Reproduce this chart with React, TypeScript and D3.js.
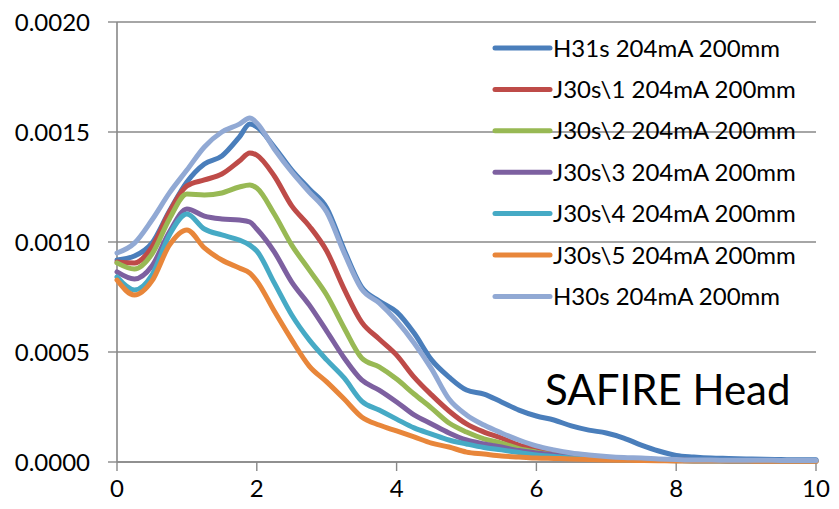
import React from "react";
import * as d3 from "d3";

const xValues = [0, 0.25, 0.5, 0.75, 1, 1.25, 1.5, 1.75, 1.9, 2, 2.25, 2.5, 2.75, 3, 3.25, 3.5, 3.75, 4, 4.25, 4.5, 4.75, 5, 5.25, 5.5, 5.75, 6, 6.25, 6.5, 6.75, 7, 7.25, 7.5, 7.75, 8, 8.25, 8.5, 8.75, 9, 9.25, 9.5, 9.75, 10];

const seriesNames = [
  "H31s 204mA 200mm",
  "J30s\\1 204mA 200mm",
  "J30s\\2 204mA 200mm",
  "J30s\\3 204mA 200mm",
  "J30s\\4 204mA 200mm",
  "J30s\\5 204mA 200mm",
  "H30s 204mA 200mm",
];

const seriesColors = ["#4A7EBB", "#BE4B48", "#98B954", "#7D60A0", "#46AAC5", "#E8863A", "#91A9D4"];

const h31s = [9.18e-4, 9.36e-4, 9.95e-4, 11.41e-4, 12.73e-4, 13.55e-4, 13.91e-4, 14.77e-4, 15.36e-4, 15.23e-4, 14.32e-4, 13.27e-4, 12.41e-4, 11.55e-4, 9.64e-4, 7.95e-4, 7.32e-4, 6.82e-4, 5.86e-4, 4.64e-4, 3.86e-4, 3.27e-4, 3.09e-4, 2.73e-4, 2.36e-4, 2.09e-4, 1.91e-4, 1.64e-4, 1.45e-4, 1.32e-4, 1.09e-4, 0.77e-4, 0.5e-4, 0.3e-4, 0.23e-4, 0.18e-4, 0.16e-4, 0.14e-4, 0.12e-4, 0.11e-4, 0.1e-4, 0.1e-4];
const j30s1 = [9.09e-4, 9.05e-4, 9.77e-4, 11.36e-4, 12.55e-4, 12.82e-4, 13.09e-4, 13.68e-4, 14.05e-4, 13.95e-4, 13.0e-4, 11.64e-4, 10.73e-4, 9.59e-4, 7.86e-4, 6.36e-4, 5.59e-4, 4.86e-4, 3.86e-4, 3.05e-4, 2.32e-4, 1.73e-4, 1.36e-4, 1.09e-4, 0.77e-4, 0.59e-4, 0.43e-4, 0.32e-4, 0.23e-4, 0.18e-4, 0.14e-4, 0.11e-4, 0.09e-4, 0.08e-4, 0.07e-4, 0.07e-4, 0.06e-4, 0.06e-4, 0.05e-4, 0.05e-4, 0.05e-4, 0.05e-4];
const j30s2 = [9.05e-4, 8.77e-4, 9.45e-4, 11.05e-4, 12.18e-4, 12.14e-4, 12.23e-4, 12.5e-4, 12.59e-4, 12.45e-4, 11.27e-4, 9.86e-4, 8.73e-4, 7.59e-4, 6.09e-4, 4.73e-4, 4.32e-4, 3.77e-4, 3.09e-4, 2.45e-4, 1.77e-4, 1.36e-4, 1.05e-4, 0.86e-4, 0.61e-4, 0.45e-4, 0.32e-4, 0.23e-4, 0.18e-4, 0.14e-4, 0.11e-4, 0.09e-4, 0.08e-4, 0.07e-4, 0.06e-4, 0.06e-4, 0.05e-4, 0.05e-4, 0.05e-4, 0.04e-4, 0.04e-4, 0.04e-4];
const j30s3 = [8.64e-4, 8.32e-4, 8.91e-4, 10.45e-4, 11.5e-4, 11.18e-4, 11.05e-4, 11.0e-4, 10.91e-4, 10.59e-4, 9.55e-4, 8.18e-4, 7.14e-4, 5.95e-4, 4.73e-4, 3.73e-4, 3.27e-4, 2.73e-4, 2.14e-4, 1.73e-4, 1.32e-4, 1.0e-4, 0.82e-4, 0.68e-4, 0.52e-4, 0.41e-4, 0.32e-4, 0.23e-4, 0.18e-4, 0.14e-4, 0.11e-4, 0.09e-4, 0.08e-4, 0.07e-4, 0.06e-4, 0.06e-4, 0.05e-4, 0.05e-4, 0.04e-4, 0.04e-4, 0.04e-4, 0.04e-4];
const j30s4 = [8.41e-4, 7.82e-4, 8.5e-4, 10.32e-4, 11.27e-4, 10.59e-4, 10.32e-4, 10.09e-4, 9.86e-4, 9.59e-4, 8.14e-4, 6.68e-4, 5.55e-4, 4.64e-4, 3.82e-4, 2.77e-4, 2.36e-4, 1.95e-4, 1.55e-4, 1.27e-4, 1.0e-4, 0.82e-4, 0.66e-4, 0.55e-4, 0.43e-4, 0.32e-4, 0.25e-4, 0.18e-4, 0.14e-4, 0.11e-4, 0.09e-4, 0.08e-4, 0.07e-4, 0.06e-4, 0.05e-4, 0.05e-4, 0.05e-4, 0.04e-4, 0.04e-4, 0.04e-4, 0.04e-4, 0.04e-4];
const j30s5 = [8.27e-4, 7.59e-4, 8.23e-4, 9.86e-4, 10.55e-4, 9.73e-4, 9.18e-4, 8.82e-4, 8.59e-4, 8.23e-4, 6.86e-4, 5.55e-4, 4.36e-4, 3.64e-4, 2.86e-4, 2.05e-4, 1.68e-4, 1.41e-4, 1.14e-4, 0.86e-4, 0.68e-4, 0.45e-4, 0.36e-4, 0.27e-4, 0.23e-4, 0.18e-4, 0.16e-4, 0.14e-4, 0.11e-4, 0.09e-4, 0.08e-4, 0.07e-4, 0.06e-4, 0.05e-4, 0.05e-4, 0.04e-4, 0.04e-4, 0.04e-4, 0.03e-4, 0.03e-4, 0.03e-4, 0.03e-4];
const h30s = [9.5e-4, 9.95e-4, 11.0e-4, 12.23e-4, 13.27e-4, 14.32e-4, 15.0e-4, 15.36e-4, 15.64e-4, 15.41e-4, 14.23e-4, 13.18e-4, 12.27e-4, 11.36e-4, 9.5e-4, 7.86e-4, 7.23e-4, 6.41e-4, 5.41e-4, 4.23e-4, 2.86e-4, 2.14e-4, 1.68e-4, 1.32e-4, 1.0e-4, 0.73e-4, 0.55e-4, 0.41e-4, 0.32e-4, 0.25e-4, 0.2e-4, 0.18e-4, 0.14e-4, 0.11e-4, 0.09e-4, 0.09e-4, 0.08e-4, 0.08e-4, 0.08e-4, 0.07e-4, 0.07e-4, 0.07e-4];

const seriesValues = [h31s, j30s1, j30s2, j30s3, j30s4, j30s5, h30s];

const xTicks = [0, 2, 4, 6, 8, 10];
const yTicks = [0, 0.0005, 0.001, 0.0015, 0.002];
const annotation = "SAFIRE Head";

const W = 839;
const H = 509;
const FONT = "Lato, 'Open Sans', sans-serif";
const GRID = "#888888";

export default function App() {
  const x = d3.scaleLinear().domain([0, 10]).range([117, 816]);
  const y = d3.scaleLinear().domain([0, 0.002]).range([462, 22]);
  const line = d3
    .line<number>()
    .x((_, i) => x(xValues[i]))
    .y((d) => y(d))
    .curve(d3.curveMonotoneX);

  const legendX0 = 495;
  const legendX1 = 550;
  const legendY0 = 48;
  const legendStep = 41.4;

  return (
    <svg
      width={W}
      height={H}
      style={{ position: "absolute", left: 0, top: 0, background: "#fff" }}
      fontFamily={FONT}
    >
      <rect x={0} y={0} width={W} height={H} fill="#fff" />
      {yTicks.map((t) => (
        <line key={"g" + t} x1={x(0)} x2={x(10)} y1={y(t)} y2={y(t)} stroke={GRID} strokeWidth={1.4} />
      ))}
      <line x1={x(0)} x2={x(0)} y1={y(0.002)} y2={y(0)} stroke={GRID} strokeWidth={1.6} />
      {yTicks.map((t) => (
        <line key={"yt" + t} x1={x(0) - 9} x2={x(0)} y1={y(t)} y2={y(t)} stroke={GRID} strokeWidth={1.4} />
      ))}
      {yTicks.map((t) => (
        <text key={"yl" + t} x={90} y={y(t) + 8.5} textAnchor="end" fontSize={24} fill="#000">
          {t.toFixed(4)}
        </text>
      ))}
      <line x1={x(0)} x2={x(10)} y1={y(0)} y2={y(0)} stroke={GRID} strokeWidth={1.6} />
      {xTicks.map((t) => (
        <line key={"xt" + t} x1={x(t)} x2={x(t)} y1={y(0)} y2={y(0) + 9} stroke={GRID} strokeWidth={1.4} />
      ))}
      {xTicks.map((t) => (
        <text key={"xl" + t} x={x(t)} y={497} textAnchor="middle" fontSize={24} fill="#000">
          {t}
        </text>
      ))}
      {seriesValues.map((vals, i) => (
        <path
          key={"s" + i}
          d={line(vals) || ""}
          fill="none"
          stroke={seriesColors[i]}
          strokeWidth={5}
          strokeLinejoin="round"
          strokeLinecap="round"
        />
      ))}
      {seriesNames.map((name, i) => {
        const cy = legendY0 + i * legendStep;
        return (
          <g key={"lg" + i}>
            <line x1={legendX0} x2={legendX1} y1={cy} y2={cy} stroke={seriesColors[i]} strokeWidth={5} strokeLinecap="round" />
            <text x={553} y={cy + 8.5} fontSize={24} fill="#000">
              {name}
            </text>
          </g>
        );
      })}
      <text x={545} y={405} fontSize={42} fill="#000">
        {annotation}
      </text>
    </svg>
  );
}
